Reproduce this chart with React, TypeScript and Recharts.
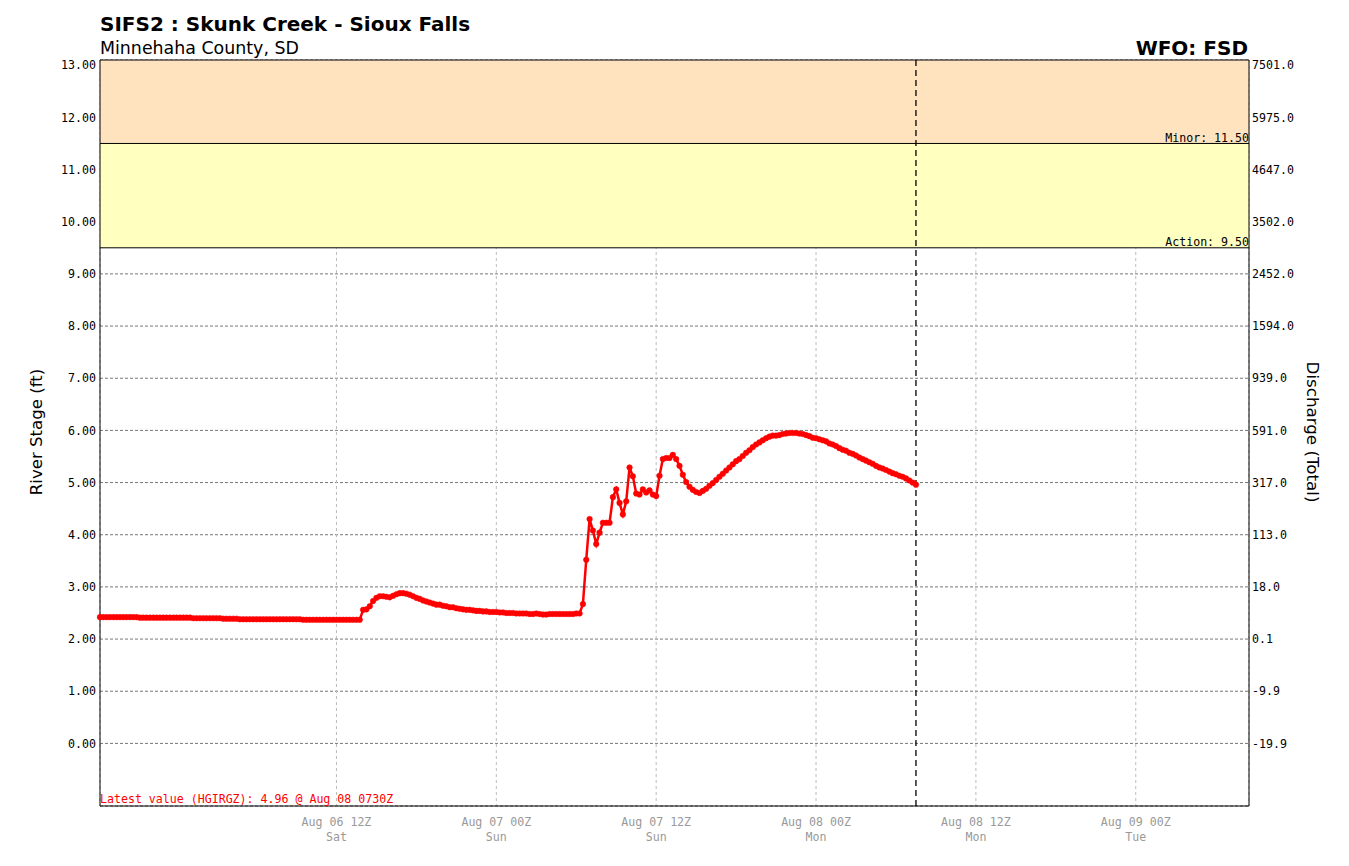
import React from "react";
import {
  ComposedChart,
  Line,
  XAxis,
  YAxis,
  CartesianGrid,
  ReferenceArea,
  ReferenceLine,
} from "recharts";

// hours counted from Aug 06 00Z; observations every 15 minutes
const START_HOUR = -5.75;
const STEP_HOURS = 0.25;

const stageValues = [
  2.42, 2.42, 2.42, 2.42, 2.42, 2.42, 2.42, 2.42, 2.42, 2.42,
  2.42, 2.42, 2.41, 2.41, 2.41, 2.41, 2.41, 2.41, 2.41, 2.41,
  2.41, 2.41, 2.41, 2.41, 2.41, 2.41, 2.41, 2.41, 2.40, 2.40,
  2.40, 2.40, 2.40, 2.40, 2.40, 2.40, 2.40, 2.39, 2.39, 2.39,
  2.39, 2.39, 2.38, 2.38, 2.38, 2.38, 2.38, 2.38, 2.38, 2.38,
  2.38, 2.38, 2.38, 2.38, 2.38, 2.38, 2.38, 2.38, 2.38, 2.38,
  2.38, 2.37, 2.37, 2.37, 2.37, 2.37, 2.37, 2.37, 2.37, 2.37,
  2.37, 2.37, 2.37, 2.37, 2.37, 2.37, 2.37, 2.37, 2.37, 2.56,
  2.57, 2.63, 2.73, 2.79, 2.82, 2.82, 2.81, 2.80, 2.83, 2.86,
  2.88, 2.88, 2.87, 2.85, 2.82, 2.79, 2.77, 2.74, 2.72, 2.70,
  2.68, 2.66, 2.66, 2.64, 2.63, 2.61, 2.61, 2.59, 2.58, 2.57,
  2.56, 2.56, 2.55, 2.54, 2.54, 2.53, 2.53, 2.52, 2.52, 2.52,
  2.51, 2.51, 2.50, 2.50, 2.50, 2.49, 2.49, 2.49, 2.49, 2.48,
  2.48, 2.49, 2.48, 2.47, 2.47, 2.48, 2.48, 2.48, 2.48, 2.48,
  2.48, 2.48, 2.48, 2.49, 2.49, 2.67, 3.52, 4.30, 4.08, 3.82,
  4.04, 4.23, 4.23, 4.23, 4.72, 4.87, 4.61, 4.39, 4.64, 5.29,
  5.12, 4.79, 4.77, 4.87, 4.81, 4.85, 4.77, 4.74, 5.13, 5.45,
  5.47, 5.47, 5.53, 5.45, 5.32, 5.15, 5.01, 4.92, 4.86, 4.82,
  4.80, 4.84, 4.88, 4.94, 4.99, 5.05, 5.11, 5.17, 5.23, 5.29,
  5.35, 5.41, 5.45, 5.51, 5.57, 5.62, 5.68, 5.73, 5.77, 5.81,
  5.85, 5.88, 5.90, 5.90, 5.91, 5.93, 5.94, 5.95, 5.95, 5.95,
  5.94, 5.93, 5.91, 5.89, 5.86, 5.85, 5.83, 5.81, 5.79, 5.75,
  5.73, 5.70, 5.66, 5.63, 5.61, 5.57, 5.55, 5.52, 5.48, 5.45,
  5.42, 5.39, 5.36, 5.32, 5.29, 5.27, 5.24, 5.21, 5.18, 5.16,
  5.13, 5.11, 5.08, 5.04, 5.00, 4.96,
];

const timeTicks = [12, 24, 36, 48, 60, 72];
const timeTickLabels = ["Aug 06 12Z", "Aug 07 00Z", "Aug 07 12Z", "Aug 08 00Z", "Aug 08 12Z", "Aug 09 00Z"];
const timeTickDays = ["Sat", "Sun", "Sun", "Mon", "Mon", "Tue"];

const stageTicks = [0, 1, 2, 3, 4, 5, 6, 7, 8, 9, 10, 11, 12, 13];
const dischargeLabels = [
  "-19.9", "-9.9", "0.1", "18.0", "113.0", "317.0", "591.0",
  "939.0", "1594.0", "2452.0", "3502.0", "4647.0", "5975.0", "7501.0",
];

const ACTION_STAGE = 9.5;
const MINOR_STAGE = 11.5;
const LATEST_HOUR = 55.5;

const data = stageValues.map((v, i) => ({ t: START_HOUR + i * STEP_HOURS, stage: v }));

const MONO = "'DejaVu Sans Mono', monospace";
const SANS = "'DejaVu Sans', sans-serif";

function TimeTick(props: any) {
  const { x, y, payload } = props;
  const i = timeTicks.indexOf(payload.value);
  return (
    <g>
      <text x={x} y={y + 18} textAnchor="middle" fontFamily={MONO} fontSize={11.6} fill="#999">
        {timeTickLabels[i]}
      </text>
      <text x={x} y={y + 33} textAnchor="middle" fontFamily={MONO} fontSize={11.6} fill="#999">
        {timeTickDays[i]}
      </text>
    </g>
  );
}

function StageLabel(props: any) {
  const { viewBox, text } = props;
  if (!viewBox) return null;
  return (
    <text
      x={viewBox.x + viewBox.width}
      y={viewBox.y - 1.5}
      textAnchor="end"
      fontFamily={MONO}
      fontSize={11.6}
      fill="#000"
    >
      {text}
    </text>
  );
}

export default function App() {
  return (
    <div style={{ position: "absolute", left: 0, top: 0, width: 1349, height: 866, background: "#fff" }}>
      <ComposedChart
        width={1349}
        height={866}
        data={data}
        margin={{ top: 60, right: 0, bottom: 0, left: 0 }}
      >
        <ReferenceArea yAxisId="left" y1={MINOR_STAGE} y2={13.1} fill="#FFE3BF" fillOpacity={1} />
        <ReferenceArea yAxisId="left" y1={ACTION_STAGE} y2={MINOR_STAGE} fill="#FFFFC0" fillOpacity={1} />
        <CartesianGrid yAxisId="left" vertical={false} stroke="#777" strokeDasharray="3 2" />
        <CartesianGrid yAxisId="left" horizontal={false} stroke="#bbb" strokeDasharray="3 3" />
        <XAxis
          dataKey="t"
          type="number"
          domain={[-5.75, 80.5]}
          ticks={timeTicks}
          interval={0}
          height={60}
          tickSize={0}
          tickLine={false}
          axisLine={{ stroke: "#000" }}
          tick={<TimeTick />}
        />
        <YAxis
          yAxisId="left"
          type="number"
          domain={[-1.2, 13.1]}
          ticks={stageTicks}
          width={100}
          tickSize={0}
          tickMargin={4}
          tickLine={false}
          axisLine={{ stroke: "#000" }}
          tickFormatter={(v: number) => v.toFixed(2)}
          tick={{ fill: "#000", fontSize: 11.6, fontFamily: MONO }}
        />
        <YAxis
          yAxisId="right"
          orientation="right"
          type="number"
          domain={[-1.2, 13.1]}
          allowDataOverflow
          ticks={stageTicks}
          interval={0}
          width={100}
          tickSize={0}
          tickMargin={3}
          tickLine={false}
          axisLine={{ stroke: "#000" }}
          tickFormatter={(v: number) => dischargeLabels[stageTicks.indexOf(v)]}
          tick={{ fill: "#000", fontSize: 11.6, fontFamily: MONO }}
        />
        <ReferenceLine yAxisId="left" y={13.1} stroke="#000" />
        <ReferenceLine
          yAxisId="left"
          y={MINOR_STAGE}
          stroke="#000"
          label={<StageLabel text="Minor: 11.50" />}
        />
        <ReferenceLine
          yAxisId="left"
          y={ACTION_STAGE}
          stroke="#000"
          label={<StageLabel text="Action: 9.50" />}
        />
        <ReferenceLine yAxisId="left" x={LATEST_HOUR} stroke="#000" strokeWidth={1.3} strokeDasharray="6 4" />
        <Line
          yAxisId="left"
          dataKey="stage"
          type="linear"
          stroke="#ff0000"
          strokeWidth={2.5}
          dot={{ r: 2.8, fill: "#ff0000", stroke: "#ff0000", strokeWidth: 0.5 }}
          activeDot={false}
          isAnimationActive={false}
        />
      </ComposedChart>
      <svg
        width={1349}
        height={866}
        style={{ position: "absolute", left: 0, top: 0, pointerEvents: "none" }}
      >
        <text x={100} y={31} fontFamily={SANS} fontWeight="bold" fontSize={20} fill="#000">
          SIFS2 : Skunk Creek - Sioux Falls
        </text>
        <text x={100} y={54} fontFamily={SANS} fontSize={17.4} fill="#000">
          Minnehaha County, SD
        </text>
        <text x={1248} y={55} textAnchor="end" fontFamily={SANS} fontWeight="bold" fontSize={20} fill="#000">
          WFO: FSD
        </text>
        <text
          x={36}
          y={432}
          transform="rotate(-90 36 432)"
          textAnchor="middle"
          dominantBaseline="central"
          fontFamily={SANS}
          fontSize={16.6}
          fill="#000"
        >
          River Stage (ft)
        </text>
        <text
          x={1313}
          y={432}
          transform="rotate(90 1313 432)"
          textAnchor="middle"
          dominantBaseline="central"
          fontFamily={SANS}
          fontSize={16.7}
          fill="#000"
        >
          Discharge (Total)
        </text>
        <text x={100} y={803} fontFamily={MONO} fontSize={11.6} fill="#ff0000">
          Latest value (HGIRGZ): 4.96 @ Aug 08 0730Z
        </text>
      </svg>
    </div>
  );
}
